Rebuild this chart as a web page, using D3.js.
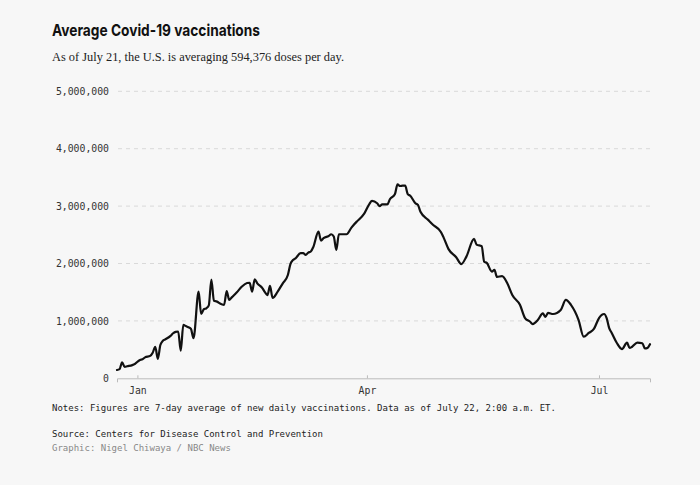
<!DOCTYPE html>
<html><head><meta charset="utf-8">
<script src="https://cdn.jsdelivr.net/npm/d3@7"></script>
<style>
html,body{margin:0;padding:0;background:#f7f7f7;}
svg{display:block;}
</style></head>
<body>
<svg id="chart" width="700" height="485"></svg>
<script>
const titleText = "Average Covid-19 vaccinations";
const subtitleText = "As of July 21, the U.S. is averaging 594,376 doses per day.";
const notesText = "Notes: Figures are 7-day average of new daily vaccinations. Data as of July 22, 2:00 a.m. ET.";
const sourceText = "Source: Centers for Disease Control and Prevention";
const creditText = "Graphic: Nigel Chiwaya / NBC News";

const yTicks = [0, 1000000, 2000000, 3000000, 4000000, 5000000];
const xTickDates = ["2021-01-01", "2021-04-01", "2021-07-01"];
const xTickLabels = ["Jan", "Apr", "Jul"];
const xDomain = ["2020-12-24", "2021-07-21"];

const dates = [
"2020-12-24","2020-12-25","2020-12-26","2020-12-27","2020-12-28","2020-12-30","2020-12-31",
"2021-01-02","2021-01-03","2021-01-04","2021-01-06","2021-01-07","2021-01-08","2021-01-09","2021-01-10","2021-01-11","2021-01-12","2021-01-14","2021-01-15","2021-01-16","2021-01-17","2021-01-18","2021-01-19","2021-01-20","2021-01-21","2021-01-22","2021-01-23","2021-01-25","2021-01-26","2021-01-27","2021-01-28","2021-01-29","2021-01-30","2021-01-31",
"2021-02-01","2021-02-03","2021-02-04","2021-02-05","2021-02-06","2021-02-07","2021-02-09","2021-02-11","2021-02-13","2021-02-14","2021-02-15","2021-02-16","2021-02-17","2021-02-19","2021-02-20","2021-02-21","2021-02-22","2021-02-23","2021-02-25","2021-02-27",
"2021-03-01","2021-03-02","2021-03-03","2021-03-04","2021-03-06","2021-03-07","2021-03-08","2021-03-09","2021-03-10","2021-03-11","2021-03-13","2021-03-14","2021-03-15","2021-03-17","2021-03-18","2021-03-19","2021-03-20","2021-03-21","2021-03-23","2021-03-24","2021-03-26","2021-03-28","2021-03-29","2021-03-31",
"2021-04-02","2021-04-03","2021-04-05","2021-04-06","2021-04-07","2021-04-09","2021-04-10","2021-04-12","2021-04-13","2021-04-14","2021-04-15","2021-04-16","2021-04-17","2021-04-18","2021-04-20","2021-04-21","2021-04-22","2021-04-25","2021-04-27","2021-04-30",
"2021-05-01","2021-05-03","2021-05-06","2021-05-08","2021-05-10","2021-05-13","2021-05-14","2021-05-16","2021-05-17","2021-05-18","2021-05-20","2021-05-21","2021-05-22","2021-05-24","2021-05-26","2021-05-28","2021-05-31",
"2021-06-02","2021-06-04","2021-06-05","2021-06-07","2021-06-09","2021-06-10","2021-06-11","2021-06-13","2021-06-16","2021-06-18","2021-06-20","2021-06-23","2021-06-25","2021-06-27","2021-06-29",
"2021-07-01","2021-07-03","2021-07-04","2021-07-05","2021-07-06","2021-07-08","2021-07-10","2021-07-12","2021-07-13","2021-07-14","2021-07-16","2021-07-18","2021-07-19","2021-07-20","2021-07-21"
];
const doses = [
145000,160000,280000,200000,210000,230000,250000,
320000,330000,365000,390000,445000,550000,340000,580000,655000,680000,740000,785000,810000,815000,480000,930000,910000,890000,860000,700000,1510000,1120000,1200000,1220000,1270000,1720000,1350000,
1340000,1290000,1280000,1520000,1365000,1410000,1500000,1600000,1660000,1665000,1510000,1725000,1655000,1570000,1500000,1450000,1610000,1400000,1510000,1655000,
1800000,1990000,2060000,2090000,2180000,2180000,2150000,2190000,2210000,2290000,2555000,2400000,2440000,2480000,2510000,2470000,2235000,2510000,2510000,2510000,2630000,2730000,2770000,2875000,
3040000,3090000,3050000,3000000,3030000,3030000,3120000,3210000,3380000,3350000,3355000,3355000,3210000,3180000,3050000,3020000,2900000,2760000,2670000,2550000,
2460000,2250000,2110000,1990000,2120000,2430000,2330000,2300000,2030000,2010000,1860000,1890000,1765000,1780000,1660000,1450000,1280000,
1050000,985000,945000,1015000,1130000,1070000,1140000,1120000,1190000,1365000,1280000,1015000,725000,790000,860000,
1050000,1120000,1050000,875000,790000,615000,510000,620000,530000,550000,620000,610000,520000,530000,594376
];

const parse = d3.utcParse("%Y-%m-%d");
const data = dates.map((d, i) => ({date: parse(d), value: doses[i]}));

const svg = d3.select("#chart");
const mLeft = 117, mRight = 650, mTop = 91.3, mBottom = 378.3;

const x = d3.scaleUtc().domain(xDomain.map(parse)).range([mLeft, mRight]);
const y = d3.scaleLinear().domain([0, 5000000]).range([mBottom, mTop]);

// Title & subtitle
svg.append("text").attr("x", 52).attr("y", 36)
  .attr("font-family", "Inter, Roboto, sans-serif").attr("font-weight", 700)
  .attr("font-size", 16.5).attr("fill", "#111")
  .attr("textLength", 208).attr("lengthAdjust", "spacingAndGlyphs")
  .text(titleText);
svg.append("text").attr("x", 52).attr("y", 60.5)
  .attr("font-family", "'Liberation Serif', serif")
  .attr("font-size", 13.5).attr("fill", "#222")
  .attr("textLength", 292).attr("lengthAdjust", "spacingAndGlyphs")
  .text(subtitleText);

// Gridlines
svg.append("g").selectAll("line").data(yTicks.filter(t => t > 0)).join("line")
  .attr("x1", mLeft + 1).attr("x2", mRight)
  .attr("y1", d => y(d)).attr("y2", d => y(d))
  .attr("stroke", "#d9d9d9").attr("stroke-width", 1).attr("stroke-dasharray", "4,4");

// Y axis labels
const yAxis = d3.axisLeft(y).tickValues(yTicks).tickSize(0).tickPadding(8)
  .tickFormat(d3.format(","));
const gy = svg.append("g").attr("transform", `translate(${mLeft},0)`).call(yAxis);
gy.select(".domain").remove();
gy.selectAll("text").attr("font-family", "'DejaVu Sans Mono', monospace")
  .attr("font-size", 9.8).attr("fill", "#333");

// X axis
const xAxis = d3.axisBottom(x).tickValues(xTickDates.map(parse))
  .tickFormat((d, i) => xTickLabels[i]).tickSize(-3).tickSizeOuter(4).tickPadding(9);
const gx = svg.append("g").attr("transform", `translate(0,${mBottom})`).call(xAxis);
gx.select(".domain").attr("stroke", "#bbb");
gx.selectAll(".tick line").attr("stroke", "#bbb");
gx.selectAll("text").attr("font-family", "'DejaVu Sans Mono', monospace")
  .attr("font-size", 9.8).attr("fill", "#333");

// Line
const line = d3.line().x(d => x(d.date)).y(d => y(d.value)).curve(d3.curveMonotoneX);
svg.append("path").datum(data).attr("d", line)
  .attr("fill", "none").attr("stroke", "#111").attr("stroke-width", 2.2)
  .attr("stroke-linejoin", "round").attr("stroke-linecap", "round");

// Notes
const mono = "'DejaVu Sans Mono', monospace";
svg.append("text").attr("x", 52).attr("y", 411).attr("font-family", mono)
  .attr("font-size", 9).attr("fill", "#222").text(notesText);
svg.append("text").attr("x", 52).attr("y", 436.5).attr("font-family", mono)
  .attr("font-size", 9).attr("fill", "#222").text(sourceText);
svg.append("text").attr("x", 52).attr("y", 451).attr("font-family", mono)
  .attr("font-size", 9).attr("fill", "#888").text(creditText);
</script>
</body></html>
